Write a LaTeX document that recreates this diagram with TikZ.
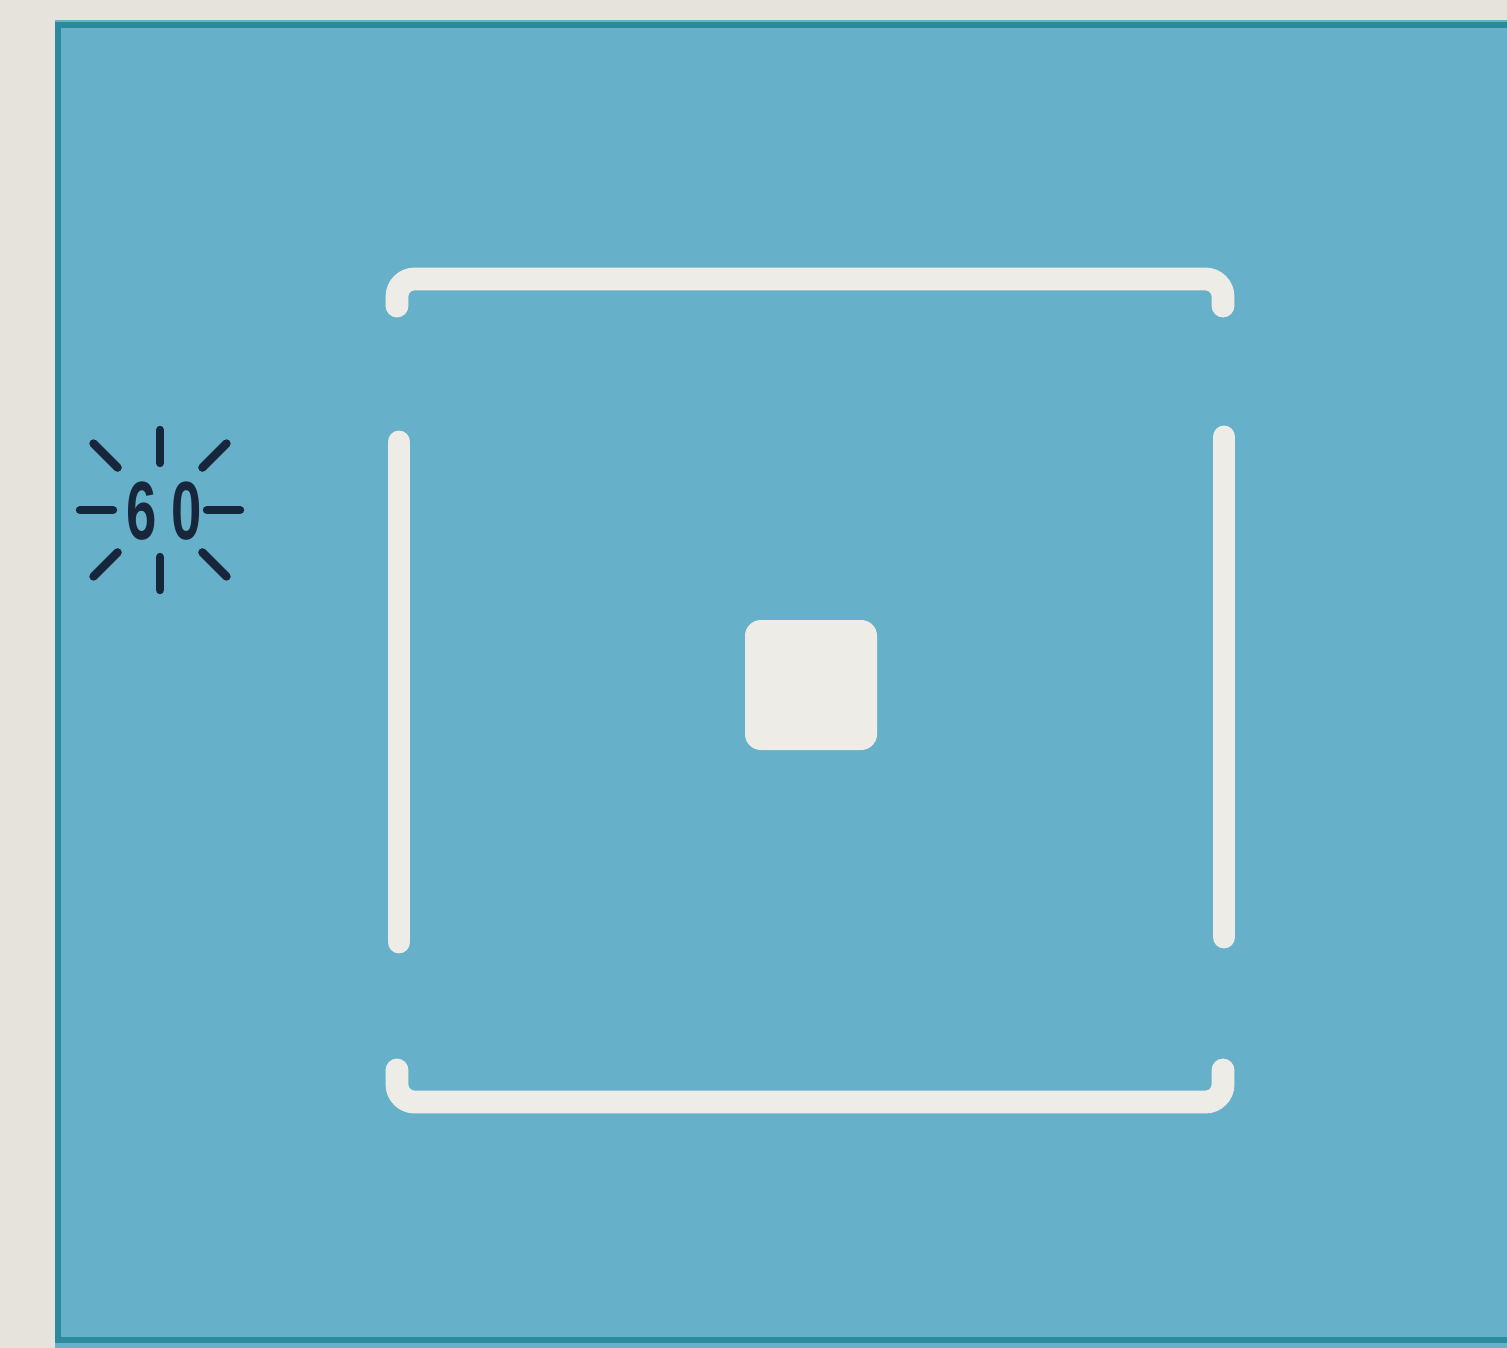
\documentclass[tikz,border=0pt]{standalone}
\usepackage{fontspec}
\setmainfont{Liberation Sans}
\definecolor{paper}{HTML}{E6E2DC}
\definecolor{screen}{HTML}{67B0C9}
\definecolor{rim}{HTML}{2B8A9C}
\definecolor{framewhite}{HTML}{EEECE6}
\definecolor{ink}{HTML}{17263A}
\tikzset{
  bar/.style={draw=framewhite,line width=13pt,line cap=round,rounded corners=10pt},
  ray/.style={draw=ink,line width=4.8pt,line cap=round}
}
\begin{document}
\begin{tikzpicture}[x=0.02cm,y=-0.02cm]
  \useasboundingbox (0,0) rectangle (1507,1348);
  \fill[paper] (0,0) rectangle (1507,1348);

  % sucher
  \fill[screen] (55,20) rectangle (1507,1348);
  \draw[rim,line width=3.5pt] (1507,25) -- (58,25) -- (58,1340) -- (1507,1340);

  % rahmen
  \draw[bar] (397,306) -- (397,279) -- (1223,279) -- (1223,306);
  \draw[bar] (397,1070) -- (397,1102) -- (1223,1102) -- (1223,1070);
  \draw[bar] (399,442) -- (399,942);
  \draw[bar] (1224,437) -- (1224,937);

  % messfeld
  \fill[framewhite,rounded corners=9pt] (745,620) rectangle (877,750);

  % blinkanzeige
  \coordinate (blink) at (160,510);
  \node[text=ink,inner sep=0pt,xscale=0.66,font=\bfseries\fontsize{47}{47}\selectfont] (speed) at (164,511) {6\hspace{0.28em}0};
  \foreach \a in {0,90,180,270}
    \draw[ray] ([shift={(\a:47)}]blink) -- ([shift={(\a:80)}]blink);
  \foreach \a in {45,135,225,315}
    \draw[ray] ([shift={(\a:60)}]blink) -- ([shift={(\a:94)}]blink);
\end{tikzpicture}
\end{document}
